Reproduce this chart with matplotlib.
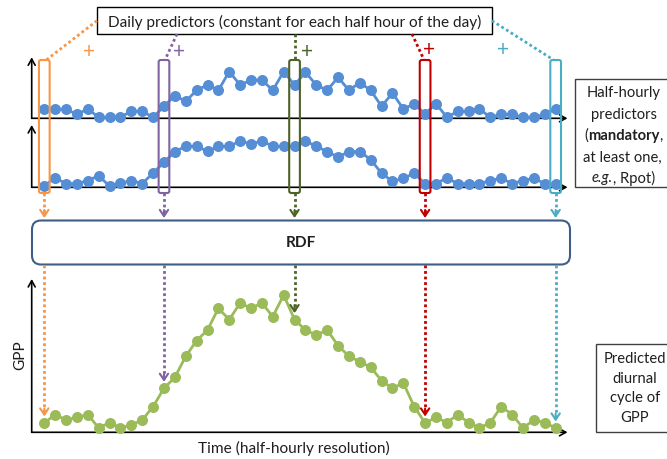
import numpy as np
import matplotlib
matplotlib.use("Agg")
import matplotlib.pyplot as plt
from matplotlib.patches import Rectangle, FancyBboxPatch

plt.rcParams['font.family'] = ['Lato', 'DejaVu Sans']

# ---------------- data (arbitrary units) ----------------
half_hour_pred_1 = [9.3, 9, 9, 4, 9.3, 1, 1, 1.3, 7, 7, 1, 12, 22.7, 17, 28, 33.3,
                    28, 46.7, 33.3, 38.3, 38.3, 28, 46.7, 33.3, 46, 33.3, 28, 41, 28,
                    35.7, 28, 12, 25.3, 9.3, 14.5, 4.3, 14.7, 1, 7, 7, 9.3, 1, 4, 4,
                    1, 1, 4, 9.3]
half_hour_pred_2 = [1.7, 9.3, 3.7, 3.7, 6.7, 11.7, 1, 4, 6.7, 3.7, 14.3, 25, 35.7, 41,
                    41, 36, 41, 41, 46.3, 43.3, 46.3, 41, 41, 41, 46.3, 41, 35.7, 30.3,
                    35.7, 35.7, 27.7, 14, 6, 9, 14, 3.7, 3.7, 9.3, 3.7, 3.7, 3.7, 6.7,
                    9, 3.7, 6.7, 9, 3.7, 3.7]
gpp = [9.3, 17.7, 12.3, 15, 17.7, 4.3, 9.7, 4.3, 7.3, 12.3, 25.7, 44, 55, 76, 91.7,
       102.3, 124, 112.7, 129.3, 124, 129.3, 115.7, 137.3, 112.7, 102.3, 97.3, 102.3,
       86.7, 76, 70.7, 65, 51.7, 44, 49.3, 25.7, 9.3, 15, 9.7, 17.7, 9.7, 4.3, 9.7,
       25.7, 17.7, 4.3, 12.3, 9.7, 4.3]

# selected half hours linked to daily predictors, and their colours
daily_idx = [0, 11, 23, 35, 47]
daily_colors = ['#F79646', '#8064A2', '#4F6228', '#C00000', '#4BACC6']

title_text = 'Daily predictors (constant for each half hour of the day)'
rdf_text = 'RDF'
x_label = 'Time (half-hourly resolution)'
y_label = 'GPP'

BLUE = '#558ED5'
GREEN = '#9BBB59'
TXT = '#1f1f1f'

# ---------------- layout (pixels) ----------------
W, H = 667, 460
X0, DX = 44.3, 10.88           # pixel x of first half hour, spacing
AX_L, AX_R = 31.7, 567.5
panels = {                      # baseline px, top px
    'p1': (119.3, 58.3),
    'p2': (188.3, 126.0),
    'gpp': (433.3, 280.0),
}

fig = plt.figure(figsize=(W / 100, H / 100), dpi=100)


def make_panel(key):
    base, top = panels[key]
    ax = fig.add_axes([AX_L / W, 1 - base / H, (AX_R - AX_L) / W, (base - top) / H])
    ax.set_xlim((AX_L - X0) / DX, (AX_R - X0) / DX)
    ax.set_ylim(0, base - top)
    ax.set_axis_off()
    ax.set_zorder(1)
    ap = dict(arrowstyle='->,head_length=0.45,head_width=0.25', color='black',
              lw=1.2, shrinkA=0, shrinkB=0)
    ax.annotate('', xy=(1, 0), xytext=(0, 0), xycoords='axes fraction',
                arrowprops=ap, annotation_clip=False, zorder=1)
    ax.annotate('', xy=(0, 1), xytext=(0, 0), xycoords='axes fraction',
                arrowprops=ap, annotation_clip=False, zorder=1)
    return ax


for key, vals, col in [('p1', half_hour_pred_1, BLUE), ('p2', half_hour_pred_2, BLUE),
                       ('gpp', gpp, GREEN)]:
    ax = make_panel(key)
    ax.plot(np.arange(len(vals)), vals, '-o', color=col, lw=2.0, ms=6.9,
            mec=col, clip_on=False, zorder=3)

# ---------------- overlay for boxes, links and text ----------------
ov = fig.add_axes([0, 0, 1, 1])
ov.set_xlim(0, W)
ov.set_ylim(H, 0)
ov.set_axis_off()
ov.set_zorder(10)
ov.patch.set_visible(False)

FS = 11.1
FS_R = 10.6

# daily predictors box
bx0, by0, bx1, by1 = 97, 8.3, 492, 35
ov.add_patch(Rectangle((bx0, by0), bx1 - bx0, by1 - by0, fc='white', ec='black', lw=1.0))
ov.text((bx0 + bx1) / 2, (by0 + by1) / 2 + 0.5, title_text, ha='center', va='center',
        fontsize=FS, color=TXT)

# RDF box
rx0, ry0, rx1, ry1 = 32, 221.5, 570, 265.5
ov.add_patch(FancyBboxPatch((rx0, ry0), rx1 - rx0, ry1 - ry0,
                            boxstyle='round,pad=0,rounding_size=9',
                            fc='white', ec='#3F5E86', lw=1.5))
ov.text((rx0 + rx1) / 2, (ry0 + ry1) / 2, rdf_text, ha='center', va='center',
        fontsize=FS, fontweight='bold', color=TXT)

dot = (0, (1, 1))
head = '->,head_length=0.45,head_width=0.3'
gpp_base = panels['gpp'][0]
plus_pos = [(89.5, 52), (178.5, 52), (306.5, 51.5), (429, 50.5), (503, 50.5)]
link_start = [(bx0, 21.7), (177, by1), (None, by1), (412, by1), (bx1, 21.7)]
link_end_dx = [2, 1, 0, -1, -2]
box_top, box_bot = 61, 194

for i, c, pp, ls, ed in zip(daily_idx, daily_colors, plus_pos, link_start, link_end_dx):
    x = X0 + DX * i
    # column box over the half-hourly predictors
    ov.add_patch(FancyBboxPatch((x - 5.35, box_top), 10.7, box_bot - box_top,
                                boxstyle='round,pad=0,rounding_size=2',
                                fc='none', ec=c, lw=1.5))
    # link from daily box
    sx = x if ls[0] is None else ls[0]
    ov.plot([sx, x + ed], [ls[1], box_top], color=c, lw=2, ls=dot)
    ov.text(pp[0], pp[1], '+', ha='center', va='center', fontsize=15, color=c)
    # arrow into RDF
    tip1 = ry0 - 2.5
    ov.plot([x, x], [box_bot, tip1 - 3], color=c, lw=2, ls=dot)
    ov.annotate('', xy=(x, tip1), xytext=(x, tip1 - 8),
                arrowprops=dict(arrowstyle=head, color=c, lw=1.5, shrinkA=0, shrinkB=0))
    # arrow from RDF to predicted GPP
    tip2 = gpp_base - gpp[i] - 6.5
    ov.plot([x, x], [ry1, tip2 - 3], color=c, lw=2, ls=dot)
    ov.annotate('', xy=(x, tip2), xytext=(x, tip2 - 8),
                arrowprops=dict(arrowstyle=head, color=c, lw=1.5, shrinkA=0, shrinkB=0))

# axis labels
ov.text(294, 448.5, x_label, ha='center', va='center', fontsize=FS, color=TXT)
ov.text(20, 355, y_label, ha='center', va='center', rotation=90, fontsize=FS, color=TXT)

# right-hand boxes
ov.add_patch(Rectangle((575, 80), 120, 108.3, fc='white', ec='#404040', lw=1.0))
ov.add_patch(Rectangle((596, 345), 120, 88.3, fc='white', ec='#404040', lw=1.0))

renderer = fig.canvas.get_renderer()


def rich_line(xc, y, pieces):
    texts = []
    for s, w, st in pieces:
        t = ov.text(0, y, s, ha='left', va='center', fontsize=FS_R, fontweight=w,
                    fontstyle=st, color=TXT)
        texts.append(t)
    widths = [t.get_window_extent(renderer).width for t in texts]
    x = xc - sum(widths) / 2
    for t, w in zip(texts, widths):
        t.set_x(x)
        x += w


R = 'normal'
rich_line(623.5, 93.3, [('Half-hourly', R, R)])
rich_line(623.5, 114.5, [('predictors', R, R)])
rich_line(623.5, 136, [('(', R, R), ('mandatory', 'bold', R), (',', R, R)])
rich_line(622.5, 157.5, [('at least one,', R, R)])
rich_line(623.5, 178.5, [('e.g.', R, 'italic'), (', Rpot)', R, R)])

rich_line(635, 359.5, [('Predicted', R, R)])
rich_line(635, 379.5, [('diurnal', R, R)])
rich_line(635, 398.5, [('cycle of', R, R)])
rich_line(635, 418.5, [('GPP', R, R)])

fig.savefig('out.png', dpi=100)
